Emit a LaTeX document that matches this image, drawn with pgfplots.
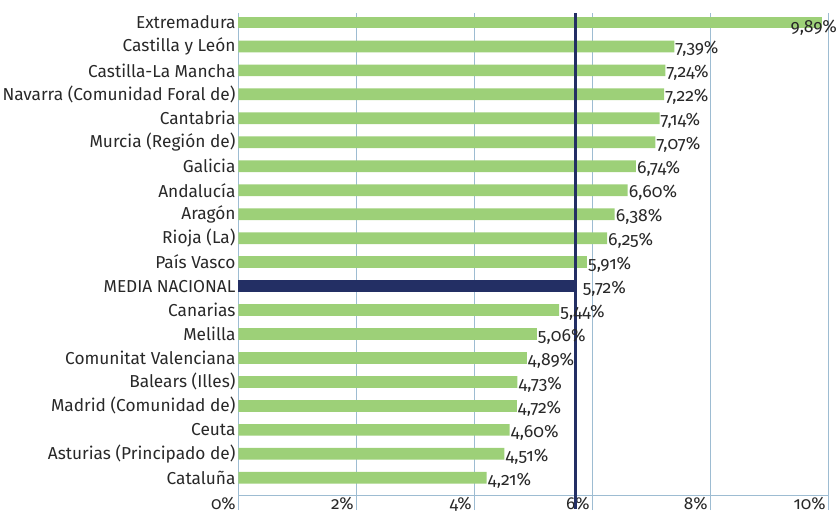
\documentclass[border=0pt]{standalone}
\usepackage{fontspec}
\setmainfont{Fira Sans}[Numbers=OldStyle]
\usepackage{pgfplots}
\usepackage{pgfplotstable}
\pgfplotsset{compat=1.18}
\definecolor{barverde}{RGB}{157,208,120}
\definecolor{azulmedia}{RGB}{35,47,100}
\definecolor{rejilla}{RGB}{157,188,210}
\definecolor{texto}{RGB}{40,40,40}

% y = posicion (0 = abajo), x = porcentaje
\pgfplotstableread{
y x
0 4.21
1 4.51
2 4.60
3 4.72
4 4.73
5 4.89
6 5.06
7 5.44
9 5.91
10 6.25
11 6.38
12 6.60
13 6.74
14 7.07
15 7.14
16 7.22
17 7.24
18 7.39
}\regiones

\begin{document}
\begin{tikzpicture}
\pgfkeys{/pgf/number format/assume math mode=true}
\begin{axis}[
  scale only axis, width=351.8pt, height=288pt,
  xmin=0, xmax=10, ymin=-0.75, ymax=19.4,
  clip=false,
  font=\fontsize{10.3}{12}\selectfont,
  axis x line*=bottom, axis y line*=left,
  axis line style={rejilla, line width=0.8pt, -},
  xmajorgrids, grid style={rejilla, line width=0.8pt},
  xtick={0,2,4,6,8,10},
  xticklabel={\pgfmathprintnumber{\tick}\%},
  tick align=outside, major tick length=8.5pt,
  xtick style={rejilla, line width=0.8pt},
  ytick style={draw=none},
  xticklabel style={anchor=north east, inner ysep=0.5pt, yshift=8.5pt, xshift=2pt, text=texto},
  ytick={0,...,19},
  yticklabels={Cataluña, Asturias (Principado de), Ceuta, Madrid (Comunidad de),
    Balears (Illes), Comunitat Valenciana, Melilla, Canarias, MEDIA NACIONAL,
    País Vasco, Rioja (La), Aragón, Andalucía, Galicia, Murcia (Región de),
    Cantabria, Navarra (Comunidad Foral de), Castilla-La Mancha,
    Castilla y León, Extremadura},
  yticklabel style={xshift=8.5pt, inner xsep=1.5pt, text=texto},
  nodes near coords={\pgfmathprintnumber[use comma,fixed,fixed zerofill,precision=2]{\pgfplotspointmeta}\%},
  nodes near coords style={text=texto, font=\fontsize{10.5}{12}\selectfont},
]
\addplot[xbar, bar width=7pt, bar shift=0pt, fill=barverde, draw=none,
  point meta=x, nodes near coords style={anchor=west, inner xsep=0.5pt, yshift=-1.5pt}]
  table[x=x, y=y] {\regiones};
\addplot[xbar, bar width=7pt, bar shift=0pt, fill=barverde, draw=none,
  point meta=x, nodes near coords style={anchor=east, inner xsep=0pt, xshift=9.3pt, yshift=-3pt}]
  coordinates {(9.89,19)};
\addplot[xbar, bar width=7pt, bar shift=0pt, fill=azulmedia, draw=none,
  point meta=x, nodes near coords style={anchor=west, inner xsep=0pt, xshift=4pt, yshift=-1.5pt}]
  coordinates {(5.72,8)};
\addplot[azulmedia, line width=2pt, no marks, nodes near coords={}]
  coordinates {(5.72,-1.3) (5.72,19.4)};
\end{axis}
\end{tikzpicture}
\end{document}
